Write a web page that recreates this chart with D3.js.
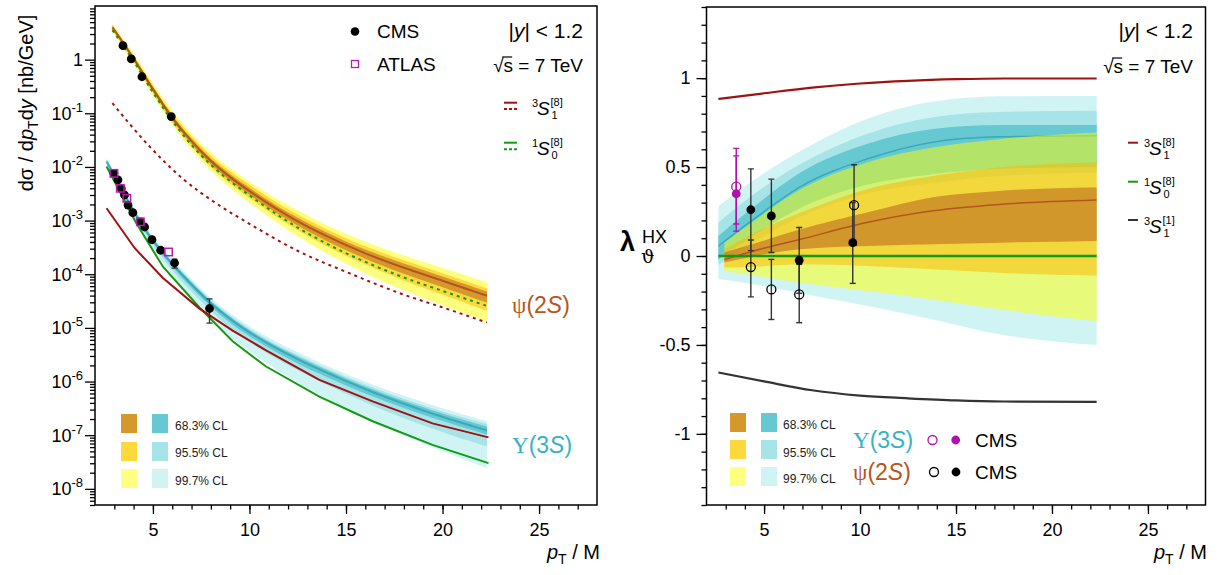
<!DOCTYPE html>
<html><head><meta charset="utf-8">
<script src="https://cdn.jsdelivr.net/npm/d3@7"></script>
<style>
body{margin:0;background:#fff;}
svg{font-family:"Liberation Sans",Arial,Helvetica,sans-serif;}
</style></head><body>
<svg id="c" width="1217" height="575"></svg>
<script>
// ---------------- LEFT PANEL DATA (theory curves stored as log10 of dσ/dpTdy) ----------------
const psiX            = [2.9, 3.5, 4, 5, 6, 7, 8, 9, 10, 12, 14, 16, 18, 20, 22.3];
const psiCentralLog   = [0.60, 0.29, 0.02, -0.55, -1.08, -1.52, -1.89, -2.19, -2.45, -2.91, -3.29, -3.61, -3.88, -4.12, -4.40];
const psi68Up   = [0.03,0.03,0.03,0.04,0.04,0.05,0.05,0.055,0.06,0.06,0.07,0.07,0.08,0.08,0.08];
const psi68Dn   = [0.03,0.03,0.03,0.04,0.05,0.05,0.06,0.065,0.07,0.08,0.09,0.10,0.11,0.12,0.13];
const psi95Up   = [0.05,0.05,0.06,0.07,0.08,0.09,0.10,0.11,0.12,0.12,0.13,0.13,0.14,0.14,0.14];
const psi95Dn   = [0.05,0.06,0.06,0.08,0.09,0.10,0.11,0.12,0.13,0.16,0.19,0.21,0.24,0.26,0.28];
const psi997Up  = [0.08,0.08,0.09,0.11,0.13,0.15,0.16,0.17,0.18,0.20,0.21,0.22,0.23,0.24,0.25];
const psi997Dn  = [0.08,0.09,0.10,0.12,0.14,0.16,0.18,0.20,0.22,0.27,0.32,0.37,0.42,0.46,0.48];
const psi1S0Log = [0.55, 0.24, -0.03, -0.61, -1.14, -1.59, -1.96, -2.265, -2.53, -3.02, -3.43, -3.77, -4.06, -4.31, -4.59];
const psi3S1X   = [2.9, 4.83, 6.55, 8.28, 10, 12.59, 15.17, 17.76, 20.35, 22.3];
const psi3S1Log = [-0.81, -1.62, -2.22, -2.68, -3.06, -3.58, -3.98, -4.35, -4.66, -4.90];

const upsX          = [2.6, 3.0, 3.5, 4.0, 4.5, 5.0, 5.5, 6.1, 7.0, 7.9, 9.1, 10.9, 12.6, 13.6, 16.4, 19.5, 22.3];
const upsCentralLog = [-1.90,-2.16,-2.50,-2.82,-3.11,-3.37,-3.60,-3.85,-4.19,-4.51,-4.86,-5.28,-5.60,-5.77,-6.20,-6.60,-6.91];
const ups68Up  = [0.02,0.02,0.02,0.03,0.03,0.03,0.03,0.04,0.04,0.04,0.04,0.04,0.05,0.05,0.05,0.06,0.07];
const ups68Dn  = [0.02,0.02,0.03,0.03,0.04,0.04,0.04,0.05,0.06,0.06,0.07,0.07,0.08,0.08,0.08,0.08,0.08];
const ups95Up  = [0.04,0.04,0.04,0.05,0.05,0.05,0.06,0.06,0.06,0.06,0.07,0.07,0.08,0.08,0.09,0.10,0.12];
const ups95Dn  = [0.04,0.05,0.06,0.07,0.08,0.08,0.10,0.12,0.13,0.14,0.17,0.19,0.21,0.22,0.25,0.28,0.30];
const ups997Up = [0.06,0.06,0.07,0.07,0.08,0.08,0.09,0.09,0.10,0.10,0.11,0.12,0.13,0.13,0.14,0.16,0.17];
const ups997Dn = [0.06,0.07,0.09,0.11,0.13,0.14,0.17,0.20,0.24,0.27,0.33,0.38,0.44,0.47,0.55,0.63,0.70];
const ups3S1X   = [2.6, 4.05, 5.52, 7.41, 9.13, 10.86, 13.62, 16.38, 19.48, 22.38];
const ups3S1Log = [-2.77, -3.51, -4.07, -4.64, -5.05, -5.42, -5.97, -6.37, -6.78, -7.04];
const ups1S0X   = [2.6, 4.14, 5.52, 7.41, 9.13, 10.86, 13.62, 16.38, 19.48, 22.38];
const ups1S0Log = [-1.99, -3.05, -3.86, -4.62, -5.25, -5.72, -6.28, -6.74, -7.18, -7.52];

// data points
const cmsPsiX = [3.45, 3.88, 4.43, 5.95];
const cmsPsiY = [1.82, 1.03, 0.48, 0.087];
const cmsUpsX = [2.98, 3.19, 3.36, 3.53, 3.71, 3.96, 4.35, 4.57, 4.95, 5.40, 6.12, 7.93];
const cmsUpsY = [7.6e-3, 5.75e-3, 3.98e-3, 3.0e-3, 1.95e-3, 1.41e-3, 9.5e-4, 7.6e-4, 4.4e-4, 2.8e-4, 1.62e-4, 2.3e-5];
const cmsUpsLo = [null,null,null,null,null,null,null,null,null,null,1.3e-4,1.23e-5];
const cmsUpsHi = [null,null,null,null,null,null,null,null,null,null,1.9e-4,3.47e-5];
const atlasUpsX = [2.98, 3.31, 3.65, 4.35, 5.81];
const atlasUpsY = [7.6e-3, 4.0e-3, 2.6e-3, 9.5e-4, 2.6e-4];

// ---------------- RIGHT PANEL DATA (lambda_theta HX) ----------------
const rUpsX        = [2.62, 4.5, 6.9, 10.35, 13.79, 17.24, 22.33];
const rUpsCentral  = [0.056, 0.21, 0.39, 0.545, 0.64, 0.67, 0.676];
const rUps68Hi  = [0.113, 0.28, 0.47, 0.63, 0.714, 0.736, 0.736];
const rUps68Lo  = [-0.019, 0.12, 0.27, 0.40, 0.46, 0.49, 0.50];
const rUps95Hi  = [0.188, 0.35, 0.517, 0.686, 0.78, 0.81, 0.817];
const rUps95Lo  = [-0.05, 0.08, 0.22, 0.35, 0.41, 0.45, 0.47];
const rUps997Hi = [0.28, 0.43, 0.59, 0.77, 0.868, 0.898, 0.90];
const rUps997Lo = [-0.13, -0.16, -0.21, -0.28, -0.357, -0.44, -0.50];
const rPsiX        = [2.93, 4.5, 6.9, 10.35, 13.79, 17.24, 22.33];
const rPsiCentral  = [-0.02, 0.03, 0.094, 0.188, 0.254, 0.29, 0.315];
const rPsi68Hi  = [0.019, 0.07, 0.15, 0.244, 0.33, 0.366, 0.385];
const rPsi68Lo  = [-0.037, 0.0, 0.038, 0.056, 0.066, 0.075, 0.085];
const rPsi95Hi  = [0.038, 0.13, 0.244, 0.376, 0.45, 0.498, 0.526];
const rPsi95Lo  = [-0.065, -0.06, -0.047, -0.056, -0.075, -0.094, -0.11];
const rPsi997Hi = [0.075, 0.20, 0.375, 0.526, 0.61, 0.657, 0.695];
const rPsi997Lo = [-0.085, -0.11, -0.15, -0.197, -0.244, -0.30, -0.366];
const rLineX      = [2.62, 5, 7.5, 10, 12.5, 15, 17.5, 22.33];
const rOctet3S1   = [0.883, 0.915, 0.947, 0.97, 0.985, 0.994, 0.998, 0.998];
const rSinglet3S1 = [-0.655, -0.705, -0.755, -0.785, -0.80, -0.812, -0.818, -0.82];
const rOctet1S0X  = [2.62, 22.33];
const rOctet1S0   = [0, 0];

const upsLamX = [3.55];
const upsLamOpen = [0.39], upsLamOpenLo = [0.18], upsLamOpenHi = [0.605];
const upsLamFill = [0.35], upsLamFillLo = [0.14], upsLamFillHi = [0.563];
const psiLamFillX = [4.31, 5.38, 6.83, 9.62];
const psiLamFill   = [0.26, 0.225, -0.024, 0.075];
const psiLamFillLo = [0.03, 0.02, -0.21, -0.154];
const psiLamFillHi = [0.49, 0.432, 0.16, 0.30];
const psiLamOpenX = [4.31, 5.38, 6.83, 9.69];
const psiLamOpen   = [-0.062, -0.188, -0.216, 0.286];
const psiLamOpenLo = [-0.23, -0.357, -0.375, 0.06];
const psiLamOpenHi = [0.09, -0.019, -0.047, 0.513];

// ticks
const xMajorTicks = [5, 10, 15, 20, 25];
const xTickLabels = ["5", "10", "15", "20", "25"];
const leftYExponents = [-8, -7, -6, -5, -4, -3, -2, -1, 0];
const rightYTicks = [-1, -0.5, 0, 0.5, 1];
const rightYTickLabels = ["-1", "-0.5", "0", "0.5", "1"];
const clLabels = ["68.3% CL", "95.5% CL", "99.7% CL"];

// ---------------- drawing ----------------
const svg = d3.select("#c");
const RED = "#a01212", GREEN = "#139a13", BROWN = "#b4561c", TEAL = "#3ba9ba";
const CY = ["#66c9d2", "#a7e4e7", "#d0f4f4"];
const PSIA = ["rgba(175,87,26,0.5)", "rgba(251,179,0,0.5)", "rgba(255,255,0,0.5)"];
const LEG_PSI = ["#d6982b", "#fdd93c", "#ffff80"];

const xL = d3.scaleLinear().domain([2, 28]).range([95, 597]);
const yL = d3.scaleLog().domain([5e-9, 10]).range([505, 6]);
const xR = d3.scaleLinear().domain([2, 28]).range([706.5, 1205.5]);
const yR = d3.scaleLinear().domain([-1.4, 1.4]).range([505, 7]);

const gL = svg.append("g"), gR = svg.append("g");
svg.append("defs").html('<clipPath id="cl"><rect x="95" y="6" width="502" height="499"/></clipPath><clipPath id="cr"><rect x="706.5" y="7" width="499" height="498"/></clipPath>');
const pL = gL.append("g").attr("clip-path", "url(#cl)");
const pR = gR.append("g").attr("clip-path", "url(#cr)");

const p10 = v => Math.pow(10, v);
function logBand(xs, c, up, dn) { return xs.map((x, i) => ({x, lo: p10(c[i] - dn[i]), hi: p10(c[i] + up[i])})); }
function bandArea(xs, ys) { return d3.area().x(d => xs(d.x)).y0(d => ys(d.lo)).y1(d => ys(d.hi)).curve(d3.curveMonotoneX); }
function linePath(xs, ys, curve) { return d3.line().x(d => xs(d.x)).y(d => ys(d.y)).curve(curve || d3.curveMonotoneX); }

const aL = bandArea(xL, yL);
[[ups997Up, ups997Dn, CY[2]], [ups95Up, ups95Dn, CY[1]], [ups68Up, ups68Dn, CY[0]]].forEach(([u, d, col]) => {
  pL.append("path").attr("d", aL(logBand(upsX, upsCentralLog, u, d))).attr("fill", col);
});
pL.append("path").attr("d", linePath(xL, yL)(upsX.map((x, i) => ({x, y: p10(upsCentralLog[i])}))))
  .attr("fill", "none").attr("stroke", TEAL).attr("stroke-width", 2);
[[psi997Up, psi997Dn, PSIA[2]], [psi95Up, psi95Dn, PSIA[1]], [psi68Up, psi68Dn, PSIA[0]]].forEach(([u, d, col]) => {
  pL.append("path").attr("d", aL(logBand(psiX, psiCentralLog, u, d))).attr("fill", col);
});
pL.append("path").attr("d", linePath(xL, yL)(psiX.map((x, i) => ({x, y: p10(psiCentralLog[i])}))))
  .attr("fill", "none").attr("stroke", BROWN).attr("stroke-width", 2);
pL.append("path").attr("d", linePath(xL, yL)(psiX.map((x, i) => ({x, y: p10(psi1S0Log[i])}))))
  .attr("fill", "none").attr("stroke", GREEN).attr("stroke-width", 2).attr("stroke-dasharray", "3,4");
pL.append("path").attr("d", linePath(xL, yL)(psi3S1X.map((x, i) => ({x, y: p10(psi3S1Log[i])}))))
  .attr("fill", "none").attr("stroke", RED).attr("stroke-width", 2).attr("stroke-dasharray", "3,4");
pL.append("path").attr("d", linePath(xL, yL, d3.curveLinear)(ups1S0X.map((x, i) => ({x, y: p10(ups1S0Log[i])}))))
  .attr("fill", "none").attr("stroke", GREEN).attr("stroke-width", 2);
pL.append("path").attr("d", linePath(xL, yL, d3.curveLinear)(ups3S1X.map((x, i) => ({x, y: p10(ups3S1Log[i])}))))
  .attr("fill", "none").attr("stroke", RED).attr("stroke-width", 2);

cmsUpsX.forEach((x, i) => {
  if (cmsUpsLo[i] != null) {
    pL.append("line").attr("x1", xL(x)).attr("x2", xL(x)).attr("y1", yL(cmsUpsLo[i])).attr("y2", yL(cmsUpsHi[i])).attr("stroke", "#333").attr("stroke-width", 1.3);
    [cmsUpsLo[i], cmsUpsHi[i]].forEach(v => pL.append("line").attr("x1", xL(x) - 3).attr("x2", xL(x) + 3).attr("y1", yL(v)).attr("y2", yL(v)).attr("stroke", "#333").attr("stroke-width", 1.3));
  }
  pL.append("circle").attr("cx", xL(x)).attr("cy", yL(cmsUpsY[i])).attr("r", 4.4).attr("fill", "#000");
});
cmsPsiX.forEach((x, i) => pL.append("circle").attr("cx", xL(x)).attr("cy", yL(cmsPsiY[i])).attr("r", 4.4).attr("fill", "#000"));
atlasUpsX.forEach((x, i) => pL.append("rect").attr("x", xL(x) - 3.7).attr("y", yL(atlasUpsY[i]) - 3.7).attr("width", 7.4).attr("height", 7.4)
  .attr("fill", "none").attr("stroke", "#b51cb5").attr("stroke-width", 1.5));

const aR = d3.area().x(d => xR(d.x)).y0(d => yR(d.lo)).y1(d => yR(d.hi)).curve(d3.curveMonotoneX);
function linBand(xs, lo, hi) { return xs.map((x, i) => ({x, lo: lo[i], hi: hi[i]})); }
[[rUps997Lo, rUps997Hi, CY[2]], [rUps95Lo, rUps95Hi, CY[1]], [rUps68Lo, rUps68Hi, CY[0]]].forEach(([lo, hi, col]) =>
  pR.append("path").attr("d", aR(linBand(rUpsX, lo, hi))).attr("fill", col));
pR.append("path").attr("d", linePath(xR, yR)(rUpsX.map((x, i) => ({x, y: rUpsCentral[i]})))).attr("fill", "none").attr("stroke", TEAL).attr("stroke-width", 1.5);
[[rPsi997Lo, rPsi997Hi, PSIA[2]], [rPsi95Lo, rPsi95Hi, PSIA[1]], [rPsi68Lo, rPsi68Hi, PSIA[0]]].forEach(([lo, hi, col]) =>
  pR.append("path").attr("d", aR(linBand(rPsiX, lo, hi))).attr("fill", col));
pR.append("path").attr("d", linePath(xR, yR)(rPsiX.map((x, i) => ({x, y: rPsiCentral[i]})))).attr("fill", "none").attr("stroke", BROWN).attr("stroke-width", 1.5);
pR.append("path").attr("d", linePath(xR, yR)(rLineX.map((x, i) => ({x, y: rOctet3S1[i]})))).attr("fill", "none").attr("stroke", RED).attr("stroke-width", 2.2);
pR.append("path").attr("d", linePath(xR, yR)(rLineX.map((x, i) => ({x, y: rSinglet3S1[i]})))).attr("fill", "none").attr("stroke", "#333").attr("stroke-width", 2.2);
pR.append("path").attr("d", linePath(xR, yR, d3.curveLinear)(rOctet1S0X.map((x, i) => ({x, y: rOctet1S0[i]})))).attr("fill", "none").attr("stroke", GREEN).attr("stroke-width", 2.5);

function errBar(g, xs, ys, x, lo, hi, col) {
  g.append("line").attr("x1", xs(x)).attr("x2", xs(x)).attr("y1", ys(lo)).attr("y2", ys(hi)).attr("stroke", col).attr("stroke-width", 1.4);
  [lo, hi].forEach(v => g.append("line").attr("x1", xs(x) - 3).attr("x2", xs(x) + 3).attr("y1", ys(v)).attr("y2", ys(v)).attr("stroke", col).attr("stroke-width", 1.4));
}
const MAG = "#b010b0";
upsLamX.forEach((x, i) => { errBar(pR, xR, yR, x, upsLamOpenLo[i], upsLamOpenHi[i], MAG); errBar(pR, xR, yR, x, upsLamFillLo[i], upsLamFillHi[i], MAG); });
psiLamFillX.forEach((x, i) => errBar(pR, xR, yR, x, psiLamFillLo[i], psiLamFillHi[i], "#333"));
psiLamOpenX.forEach((x, i) => errBar(pR, xR, yR, x, psiLamOpenLo[i], psiLamOpenHi[i], "#333"));
upsLamX.forEach((x, i) => {
  pR.append("circle").attr("cx", xR(x)).attr("cy", yR(upsLamOpen[i])).attr("r", 4.5).attr("fill", "none").attr("stroke", MAG).attr("stroke-width", 1.3);
  pR.append("circle").attr("cx", xR(x)).attr("cy", yR(upsLamFill[i])).attr("r", 4.4).attr("fill", MAG);
});
psiLamFillX.forEach((x, i) => pR.append("circle").attr("cx", xR(x)).attr("cy", yR(psiLamFill[i])).attr("r", 4.4).attr("fill", "#000"));
psiLamOpenX.forEach((x, i) => pR.append("circle").attr("cx", xR(x)).attr("cy", yR(psiLamOpen[i])).attr("r", 4.5).attr("fill", "none").attr("stroke", "#000").attr("stroke-width", 1.3));

// ---------------- axes & frames ----------------
function styleAxis(g) { g.select(".domain").remove(); g.selectAll("line").attr("stroke", "#000").attr("stroke-width", 1.3); g.selectAll("text").attr("font-size", 18).attr("fill", "#000").attr("font-family", "Liberation Sans, Arial, sans-serif"); }
[[xL, gL], [xR, gR]].forEach(([xs, g]) => {
  g.append("g").attr("transform", "translate(0,505)").call(d3.axisBottom(xs).tickValues(d3.range(3, 28)).tickSize(4.5).tickFormat("")).call(styleAxis);
  g.append("g").attr("transform", "translate(0,505)").call(d3.axisBottom(xs).tickValues(xMajorTicks).tickSize(9).tickPadding(9).tickFormat((d, i) => xTickLabels[i])).call(styleAxis);
});
const minorL = [];
for (let k = -9; k <= 0; k++) for (let m = 2; m <= 9; m++) { const v = m * Math.pow(10, k); if (v >= 5e-9 && v <= 10) minorL.push(v); }
gL.append("g").attr("transform", "translate(95,0)").call(d3.axisLeft(yL).tickValues(minorL).tickSize(5).tickFormat("")).call(styleAxis);
gL.append("g").attr("transform", "translate(95,0)").call(d3.axisLeft(yL).tickValues(leftYExponents.map(e => Math.pow(10, e))).tickSize(10).tickFormat("")).call(styleAxis);
leftYExponents.forEach(e => {
  const t = gL.append("text").attr("x", 83).attr("y", yL(Math.pow(10, e)) + 6.5).attr("text-anchor", "end").attr("font-size", 18);
  if (e === 0) t.text("1");
  else { t.append("tspan").text("10"); t.append("tspan").attr("dy", -8).attr("font-size", 13).text(String(e)); }
});
gR.append("g").attr("transform", "translate(706.5,0)").call(d3.axisLeft(yR).tickValues(d3.range(-14, 15).map(v => v / 10)).tickSize(5).tickFormat("")).call(styleAxis);
gR.append("g").attr("transform", "translate(706.5,0)").call(d3.axisLeft(yR).tickValues(rightYTicks).tickSize(10).tickPadding(6).tickFormat((d, i) => rightYTickLabels[i])).call(styleAxis);

svg.append("rect").attr("x", 95).attr("y", 6).attr("width", 502).attr("height", 499).attr("fill", "none").attr("stroke", "#000").attr("stroke-width", 1.5);
svg.append("rect").attr("x", 706.5).attr("y", 7).attr("width", 499).attr("height", 498).attr("fill", "none").attr("stroke", "#000").attr("stroke-width", 1.5);

function xTitle(xEnd) {
  const t = svg.append("text").attr("x", xEnd).attr("y", 559).attr("text-anchor", "end").attr("font-size", 20);
  t.append("tspan").attr("font-style", "italic").text("p");
  t.append("tspan").attr("font-size", 14).attr("dy", 5).text("T");
  t.append("tspan").attr("dy", -5).text(" / M");
}
xTitle(600); xTitle(1207);
{
  const t = svg.append("text").attr("transform", "translate(33,103) rotate(-90)").attr("text-anchor", "middle").attr("font-size", 20);
  t.append("tspan").text("dσ / d");
  t.append("tspan").attr("font-style", "italic").text("p");
  t.append("tspan").attr("font-size", 14).attr("dy", 5).text("T");
  t.append("tspan").attr("dy", -5).text("d");
  t.append("tspan").attr("font-style", "italic").text("y");
  t.append("tspan").text(" [nb/GeV]");
}
svg.append("text").attr("x", 620).attr("y", 251).attr("font-size", 27).attr("font-weight", "bold").text("λ");
svg.append("text").attr("x", 642).attr("y", 243).attr("font-size", 18).text("HX");
svg.append("text").attr("x", 641).attr("y", 263).attr("font-size", 19).attr("font-family", "DejaVu Serif, serif").text("ϑ");

function kinText(xEnd, y1, y2) {
  const t = svg.append("text").attr("x", xEnd).attr("y", y1).attr("text-anchor", "end").attr("font-size", 21);
  t.append("tspan").text("|");
  t.append("tspan").attr("font-style", "italic").text("y");
  t.append("tspan").text("| < 1.2");
  const s = svg.append("text").attr("x", xEnd).attr("y", y2).attr("text-anchor", "end").attr("font-size", 19);
  s.append("tspan").text("√");
  s.append("tspan").text("s");
  s.append("tspan").text(" = 7 TeV");
  // overline of the root sign
  const bb = s.node().getBBox();
  svg.append("line").attr("x1", bb.x + 9).attr("x2", bb.x + 19).attr("y1", y2 - 15).attr("y2", y2 - 15).attr("stroke", "#000").attr("stroke-width", 1.2);
}
kinText(583, 38, 72);
kinText(1193, 38, 73);

svg.append("circle").attr("cx", 355).attr("cy", 31.5).attr("r", 4.3).attr("fill", "#000");
svg.append("text").attr("x", 377).attr("y", 38).attr("font-size", 19).text("CMS");
svg.append("rect").attr("x", 351.5).attr("y", 60.5).attr("width", 7).attr("height", 7).attr("fill", "none").attr("stroke", "#b51cb5").attr("stroke-width", 1.3);
svg.append("text").attr("x", 377).attr("y", 71).attr("font-size", 19).text("ATLAS");

function stateLabel(x, yBase, pre, sub, sup) {
  svg.append("text").attr("x", x).attr("y", yBase - 8).attr("font-size", 11).text(pre);
  svg.append("text").attr("x", x + 5).attr("y", yBase).attr("font-size", 19).attr("font-style", "italic").text("S");
  svg.append("text").attr("x", x + 18.5).attr("y", yBase - 9).attr("font-size", 11).text(sup);
  svg.append("text").attr("x", x + 19.5).attr("y", yBase + 4).attr("font-size", 11).text(sub);
}
[[RED, 102.7, 109, 115, "3", "1"], [GREEN, 142.7, 149.3, 155, "1", "0"]].forEach(([col, y1, y2, yb, pre, sub]) => {
  svg.append("line").attr("x1", 504).attr("x2", 517).attr("y1", y1).attr("y2", y1).attr("stroke", col).attr("stroke-width", 2);
  svg.append("line").attr("x1", 504).attr("x2", 517).attr("y1", y2).attr("y2", y2).attr("stroke", col).attr("stroke-width", 2).attr("stroke-dasharray", "3,2");
  stateLabel(532, yb, pre, sub, "[8]");
});
[[RED, 142.7, 155, "3", "1", "[8]"], [GREEN, 181.7, 194, "1", "0", "[8]"], ["#333", 220, 233, "3", "1", "[1]"]].forEach(([col, y1, yb, pre, sub, sup]) => {
  svg.append("line").attr("x1", 1128).attr("x2", 1138).attr("y1", y1).attr("y2", y1).attr("stroke", col).attr("stroke-width", 2);
  stateLabel(1144, yb, pre, sub, sup);
});

function stateName(x, y, sym, n, col) {
  const t = svg.append("text").attr("x", x).attr("y", y).attr("font-size", 23).attr("fill", col);
  t.append("tspan").attr("font-family", "Liberation Serif, serif").text(sym);
  t.append("tspan").text("(" + n);
  t.append("tspan").attr("font-style", "italic").text("S");
  t.append("tspan").text(")");
}
const PSICOL = "#b5561c", UPSCOL = "#35b3c4";
stateName(512, 313, "ψ", "2", PSICOL);
stateName(512, 453, "Υ", "3", UPSCOL);
stateName(853, 448, "Υ", "3", UPSCOL);
stateName(853, 480, "ψ", "2", PSICOL);

function clLegend(xo, xc, xt, rows, bases) {
  clLabels.forEach((lab, i) => {
    svg.append("rect").attr("x", xo).attr("y", rows[i]).attr("width", 16).attr("height", 19).attr("fill", LEG_PSI[i]);
    svg.append("rect").attr("x", xc).attr("y", rows[i]).attr("width", 16).attr("height", 19).attr("fill", CY[i]);
    svg.append("text").attr("x", xt).attr("y", bases[i]).attr("font-size", 12).attr("fill", "#222").text(lab);
  });
}
clLegend(121, 152, 175, [414, 442, 469], [430, 457, 484.5]);
clLegend(730, 761, 783, [413, 440, 467], [429, 456.5, 483]);

svg.append("circle").attr("cx", 932.5).attr("cy", 440).attr("r", 4.5).attr("fill", "none").attr("stroke", MAG).attr("stroke-width", 1.3);
svg.append("circle").attr("cx", 955.7).attr("cy", 440).attr("r", 4.4).attr("fill", MAG);
svg.append("text").attr("x", 975).attr("y", 447).attr("font-size", 19).text("CMS");
svg.append("circle").attr("cx", 934).attr("cy", 472).attr("r", 4.5).attr("fill", "none").attr("stroke", "#000").attr("stroke-width", 1.3);
svg.append("circle").attr("cx", 956).attr("cy", 472).attr("r", 4.4).attr("fill", "#000");
svg.append("text").attr("x", 975).attr("y", 479).attr("font-size", 19).text("CMS");
</script></body></html>
